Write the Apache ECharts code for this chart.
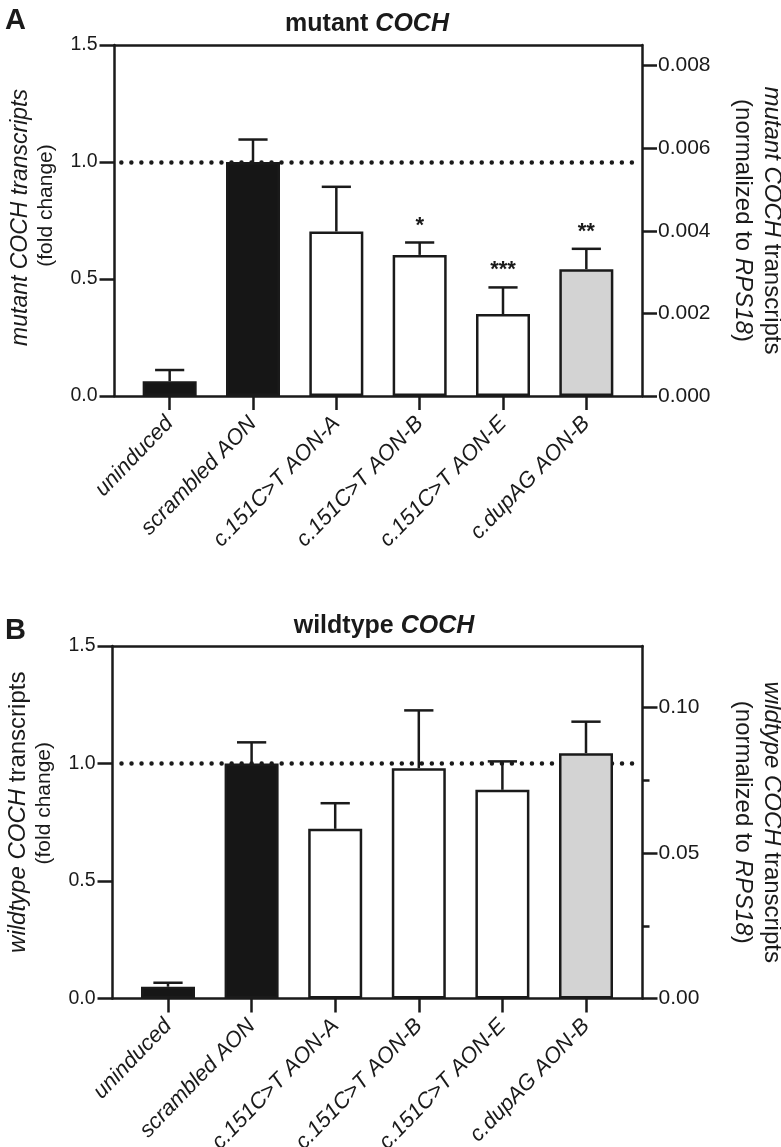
<!DOCTYPE html>
<html>
<head>
<meta charset="utf-8">
<script src="https://cdn.jsdelivr.net/npm/echarts@6/dist/echarts.min.js"></script>
<style>
html,body{margin:0;padding:0;background:#fff;}
#c{width:781px;height:1147px;}
</style>
</head>
<body>
<div id="c"></div>
<script>
// ---- data ----
const categories = ['uninduced', 'scrambled AON', 'c.151C>T AON-A', 'c.151C>T AON-B', 'c.151C>T AON-E', 'c.dupAG AON-B'];
// Panel A: mutant COCH (fold change)
const mutantMean = [0.063, 1.0, 0.703, 0.603, 0.35, 0.542];
const mutantErr  = [0.048, 0.096, 0.191, 0.053, 0.114, 0.087];
const mutantSig  = ['', '', '', '*', '***', '**'];
// Panel B: wildtype COCH (fold change)
const wildMean = [0.05, 1.0, 0.722, 0.98, 0.888, 1.044];
const wildErr  = [0.017, 0.09, 0.109, 0.246, 0.121, 0.134];
const wildSig  = ['', '', '', '', '', ''];
// tick labels
const leftTicks = [0, 0.5, 1.0, 1.5];
const rightTicksA = [0, 0.002, 0.004, 0.006, 0.008];
const rightTicksB = [0, 0.05, 0.10];
const rightMinorB = [0.025, 0.075];
const referenceLevel = 1.0;

// ---- styles ----
const barFill = ['#161616', '#161616', '#ffffff', '#ffffff', '#ffffff', '#d3d3d3'];
const INK = '#1a1a1a';
const FONT = "'Liberation Sans', Arial, Helvetica, sans-serif";
const LW = 2.5;

const chart = echarts.init(document.getElementById('c'), null, {renderer: 'canvas'});

function frameGrid(left, top, width, height) {
  return {left, top, width, height, containLabel: false, outerBoundsMode: 'none'};
}
function edgeX(gridIndex, position) {
  return {
    type: 'value', gridIndex, position, min: 0, max: 1,
    axisLine: {show: true, onZero: false, lineStyle: {color: INK, width: LW}},
    axisTick: {show: false}, axisLabel: {show: false}, splitLine: {show: false}
  };
}
function catX(gridIndex) {
  return {
    type: 'category', gridIndex, data: categories, boundaryGap: true,
    axisLine: {show: false},
    axisTick: {show: true, alignWithLabel: true, length: 14, lineStyle: {color: INK, width: LW}},
    axisLabel: {interval: 0, rotate: 46, margin: 24, color: INK, fontFamily: FONT, fontSize: 22, fontStyle: 'italic'},
    splitLine: {show: false}
  };
}
function leftY(gridIndex, name, rich) {
  return {
    type: 'value', gridIndex, position: 'left', min: 0, max: 1.5,
    axisLine: {show: true, onZero: false, lineStyle: {color: INK, width: LW}},
    axisTick: {show: true, length: 15, customValues: leftTicks, lineStyle: {color: INK, width: LW}},
    axisLabel: {customValues: leftTicks, margin: 17, color: INK, fontFamily: FONT, fontSize: 19.5, formatter: v => v.toFixed(1)},
    splitLine: {show: false},
    name, nameLocation: 'middle', nameRotate: 90, nameGap: 54,
    nameTextStyle: {color: INK, fontFamily: FONT, lineHeight: 26, rich}
  };
}
function rightY(gridIndex, max, ticks, digits, name, rich) {
  return {
    type: 'value', gridIndex, position: 'right', min: 0, max,
    axisLine: {show: true, onZero: false, lineStyle: {color: INK, width: LW}},
    axisTick: {show: true, length: 15, customValues: ticks, lineStyle: {color: INK, width: LW}},
    axisLabel: {customValues: ticks, margin: 16, color: INK, fontFamily: FONT, fontSize: 21, formatter: v => v.toFixed(digits)},
    splitLine: {show: false},
    name, nameLocation: 'middle', nameRotate: -90, nameGap: 86,
    nameTextStyle: {color: INK, fontFamily: FONT, lineHeight: 29, rich}
  };
}
function hiddenY(gridIndex) {
  return {type: 'value', gridIndex, position: 'left', min: 0, max: 1.5, show: false, splitLine: {show: false}};
}

function refLineSeries(xi, yi, x0, x1) {
  return {
    type: 'line', xAxisIndex: xi, yAxisIndex: yi, data: [], z: 1, silent: true,
    markLine: {
      silent: true, symbol: ['none', 'none'], label: {show: false}, z: 1,
      lineStyle: {color: INK, width: 4.5, type: [0.01, 10], cap: 'round'},
      data: [[{coord: [x0, referenceLevel]}, {coord: [x1, referenceLevel]}]]
    }
  };
}
function barSeries(xi, yi, means) {
  return {
    type: 'bar', xAxisIndex: xi, yAxisIndex: yi, barWidth: 54, z: 3,
    itemStyle: {borderColor: INK, borderWidth: LW},
    data: means.map((v, i) => ({value: v, itemStyle: {color: barFill[i]}}))
  };
}
function errSeries(xi, yi, means, errs, sig) {
  return {
    type: 'custom', xAxisIndex: xi, yAxisIndex: yi, z: 4, silent: true,
    data: means.map((v, i) => [i, v, v + errs[i]]),
    renderItem: function (params, api) {
      const idx = api.value(0);
      const base = api.coord([idx, api.value(1)]);
      const top = api.coord([idx, api.value(2)]);
      const half = api.size([1, 0])[0] * 0.175;
      const st = {stroke: INK, lineWidth: LW};
      const children = [
        {type: 'line', shape: {x1: base[0], y1: base[1], x2: top[0], y2: top[1]}, style: st},
        {type: 'line', shape: {x1: top[0] - half, y1: top[1], x2: top[0] + half, y2: top[1]}, style: st}
      ];
      if (sig[idx]) {
        children.push({type: 'text', style: {
          text: sig[idx], x: top[0], y: top[1] - 6,
          align: 'center', verticalAlign: 'bottom', textAlign: 'center', textVerticalAlign: 'bottom',
          fontSize: 22, fontWeight: 'bold', fontFamily: FONT, fill: INK
        }});
      }
      return {type: 'group', children};
    }
  };
}

const titleRich = {
  b: {fontFamily: FONT, fontSize: 25, fontWeight: 'bold', color: INK},
  bi: {fontFamily: FONT, fontSize: 25, fontWeight: 'bold', fontStyle: 'italic', color: INK}
};

const option = {
  backgroundColor: '#ffffff',
  animation: false,
  title: [
    {text: 'A', left: 0, top: 1, textStyle: {fontFamily: FONT, fontSize: 29, fontWeight: 'bold', color: INK}},
    {text: '{b|mutant }{bi|COCH}', left: 362, top: 7, textAlign: 'center', textStyle: {rich: titleRich}},
    {text: 'B', left: 0, top: 611, textStyle: {fontFamily: FONT, fontSize: 29, fontWeight: 'bold', color: INK}},
    {text: '{b|wildtype }{bi|COCH}', left: 379, top: 609, textAlign: 'center', textStyle: {rich: titleRich}}
  ],
  grid: [
    frameGrid(114.5, 45, 527.5, 351),
    frameGrid(128, 45, 500, 351),
    frameGrid(112.5, 646, 530, 352.5),
    frameGrid(126.2, 646, 501.6, 352.5)
  ],
  xAxis: [
    edgeX(0, 'bottom'), edgeX(0, 'top'), catX(1),
    edgeX(2, 'bottom'), edgeX(2, 'top'), catX(3)
  ],
  yAxis: [
    leftY(0, '{i|mutant COCH transcripts}\n{p|(fold change)}', {
      i: {fontFamily: FONT, fontSize: 23, fontStyle: 'italic', color: INK, padding: [0, 0, 0, 6]},
      p: {fontFamily: FONT, fontSize: 21, color: INK, padding: [0, 0, 0, 30]}
    }),
    rightY(0, 0.0085, rightTicksA, 3, '{i|mutant COCH }{r|transcripts}\n{r|(normalized to }{i|RPS18}{r|)}', {
      i: {fontFamily: FONT, fontSize: 24, fontStyle: 'italic', color: INK},
      r: {fontFamily: FONT, fontSize: 24, color: INK}
    }),
    hiddenY(1),
    leftY(2, '{i1|wildtype COCH }{r|transcripts}\n{p|(fold change)}', {
      i1: {fontFamily: FONT, fontSize: 24, fontStyle: 'italic', color: INK, padding: [0, 0, 0, 20]},
      r: {fontFamily: FONT, fontSize: 24, color: INK},
      p: {fontFamily: FONT, fontSize: 21, color: INK, padding: [0, 0, 0, 38]}
    }),
    rightY(2, 0.1212, rightTicksB, 2, '{i|wildtype COCH }{r|transcripts}\n{r|(normalized to }{i|RPS18}{r|)}', {
      i: {fontFamily: FONT, fontSize: 24, fontStyle: 'italic', color: INK},
      r: {fontFamily: FONT, fontSize: 24, color: INK}
    }),
    hiddenY(3),
    {
      type: 'value', gridIndex: 3, position: 'right', offset: 14.7, min: 0, max: 0.1212,
      axisLine: {show: false},
      axisTick: {show: true, length: 7, customValues: rightMinorB, lineStyle: {color: INK, width: LW}},
      axisLabel: {show: false}, splitLine: {show: false}
    }
  ],
  series: [
    refLineSeries(0, 0, 0.013, 0.985),
    barSeries(2, 2, mutantMean),
    errSeries(2, 2, mutantMean, mutantErr, mutantSig),
    refLineSeries(3, 3, 0.017, 0.995),
    barSeries(5, 5, wildMean),
    errSeries(5, 5, wildMean, wildErr, wildSig)
  ]
};
chart.setOption(option);
</script>
</body>
</html>
